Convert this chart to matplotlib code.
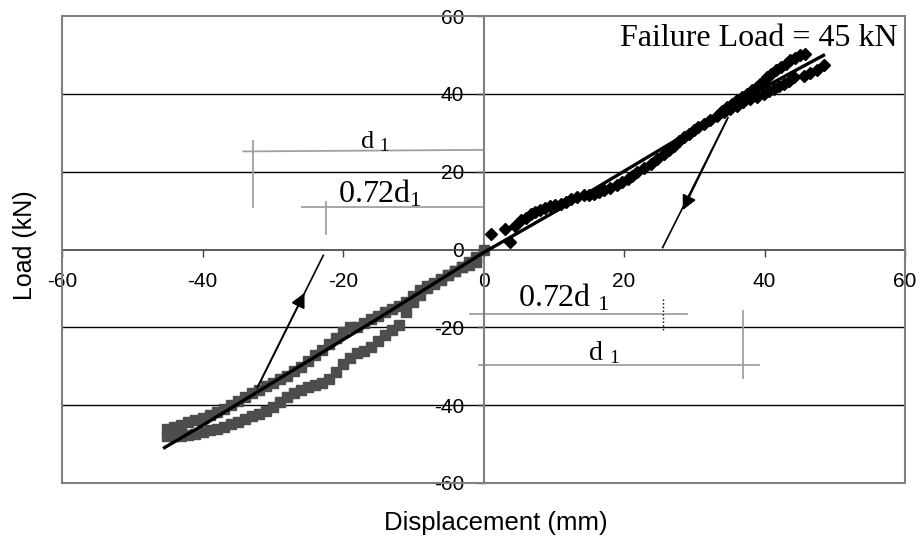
import matplotlib
matplotlib.use('Agg')
import matplotlib.pyplot as plt
from matplotlib.patches import Rectangle

plt.rcParams['font.family'] = ['Liberation Sans', 'DejaVu Sans']
plt.rcParams['mathtext.fontset'] = 'custom'
plt.rcParams['mathtext.rm'] = 'Liberation Serif'
plt.rcParams['mathtext.it'] = 'Liberation Serif'

# ---------------- data ----------------
# negative (push) half cycle, grey squares: loading branch then unloading branch
neg_x = [0, -1, -2, -3, -4, -5, -6, -7, -8, -9, -10, -11, -12, -13, -14, -15, -16, -17,
         -18, -19, -20, -21, -22, -23, -24, -25, -26, -27, -28, -29, -30, -31, -32, -33,
         -34, -35, -36, -37, -38, -39, -40, -41, -42, -43, -44, -45,
         -45, -44, -43, -42, -41, -40, -39, -38, -37, -36, -35, -34, -33, -32, -31, -30,
         -29, -28, -27, -26, -25, -24, -23, -22, -21, -20, -19, -18, -17, -16, -15, -14,
         -13, -12, -11, -10, -9, -8, -7, -6, -5, -4, -3, -2, -1]
neg_y = [0, -2.0, -3.3, -4.6, -5.6, -6.6, -7.7, -8.7, -9.5, -10.5, -12.0, -13.6, -14.5,
         -15.2, -16.0, -17.0, -17.8, -18.8, -20.0, -20.0, -21.3, -22.8, -24.2, -25.8, -27.2,
         -28.6, -30.2, -31.3, -32.4, -33.4, -34.3, -35.2, -36.0, -36.8, -37.8, -38.9, -40.0,
         -41.0, -41.8, -42.6, -43.3, -43.8, -44.4, -45.0, -45.5, -46.0,
         -47.8, -47.9, -47.9, -47.7, -47.4, -47.0, -46.5, -46.0, -45.5, -44.9, -44.2, -43.6,
         -42.9, -42.2, -41.5, -40.5, -39.2, -37.9, -37.0, -36.2, -35.4, -34.8, -34.2, -33.2,
         -31.5, -29.5, -27.8, -26.6, -26.0, -25.0, -23.6, -22.0, -20.6, -19.5, -16.0, -13.5,
         -11.8, -10.0, -8.8, -7.8, -6.6, -5.5, -4.6, -4.0, -3.2]

# positive (pull) half cycle, black diamonds
pos_x = [1.0, 3.1, 3.8, 4.5, 5.3, 6.0, 6.7, 7.4, 8.1, 8.8, 9.5, 10.2, 11.0, 11.7, 12.4, 13.3,
         14.3, 15.0, 15.7, 16.4, 17.1, 18.0, 19.0, 19.7, 20.5, 21.2, 21.9, 22.8, 23.8, 24.7,
         25.7, 26.4, 27.1, 27.8, 28.5, 29.2, 29.9, 30.6, 31.4, 32.3, 33.3, 34.0, 34.7, 35.4,
         36.1, 36.8, 37.5, 38.2, 38.9, 39.4, 39.9, 40.4, 40.9, 41.6, 42.3, 43.0, 43.7, 44.4,
         45.1, 45.8,
         48.5, 47.5, 46.5, 45.6, 44.2, 43.5, 42.8, 42.1, 41.4, 40.6, 39.9, 39.0, 38.0, 37.0,
         36.1, 35.1, 34.2]
pos_y = [4.0, 5.3, 2.0, 6.0, 7.5, 8.2, 9.2, 9.6, 10.1, 10.6, 11.3, 11.5, 11.7, 12.3, 13.0, 13.4,
         13.9, 14.1, 14.3, 14.8, 15.2, 15.8, 16.5, 17.3, 18.1, 19.0, 19.9, 20.9, 22.0, 23.3,
         24.6, 25.6, 26.7, 27.8, 28.9, 29.8, 30.6, 31.4, 32.3, 33.3, 34.4, 35.5, 36.6, 37.4,
         38.3, 39.2, 40.0, 40.9, 41.7, 42.6, 43.4, 44.2, 45.1, 46.0, 46.9, 47.7, 48.6, 49.3,
         49.9, 50.3,
         47.5, 46.2, 45.3, 44.7, 44.3, 43.4, 42.6, 41.9, 41.3, 40.6, 40.0, 39.3, 38.7, 37.8,
         37.0, 36.1, 35.3]

# fitted trend line
trend_x = [-45.4, -40, -30, -15, 0, 15, 30, 36.1, 40, 48.4]
trend_y = [-50.9, -45.2, -34.2, -17.7, -0.8, 14.7, 30.9, 37.9, 41.7, 49.9]

x_ticks = [-60, -40, -20, 0, 20, 40, 60]
y_ticks = [-60, -40, -20, 0, 20, 40, 60]
failure_text = "Failure Load = 45 kN"

# ---------------- figure ----------------
fig = plt.figure(figsize=(9.21, 5.40), dpi=100)
ax = fig.add_axes([62 / 921, 1 - 483 / 540, (905 - 62) / 921, (483 - 16) / 540])
ax.set_xlim(-60, 60)
ax.set_ylim(-60, 60)

# grid lines
for yv in [-40, -20, 20, 40]:
    ax.axhline(yv, color='black', lw=1.0, zorder=1)

# outer frame
ax.add_patch(Rectangle((0, 0), 1, 1, transform=ax.transAxes, fill=False,
                       edgecolor='#808080', lw=1.5, zorder=5, clip_on=False))

for s in ['top', 'right']:
    ax.spines[s].set_visible(False)
ax.spines['left'].set_position(('data', 0))
ax.spines['bottom'].set_position(('data', 0))
ax.spines['left'].set_color('#808080')
ax.spines['bottom'].set_color('#404040')
ax.spines['left'].set_linewidth(1.5)
ax.spines['bottom'].set_linewidth(1.2)

ax.set_xticks(x_ticks)
ax.set_yticks(y_ticks)
ax.set_xticklabels([str(v) for v in x_ticks])
ax.set_yticklabels([str(v) for v in y_ticks])
ax.tick_params(axis='both', direction='out', length=5, width=1, color='#404040',
               labelsize=15)
ax.tick_params(axis='x', pad=11)
ax.tick_params(axis='y', pad=9)

# data
ax.plot(neg_x, neg_y, ls='none', marker='s', ms=7, color='#4d4d4d', zorder=3)
ax.plot(pos_x, pos_y, ls='none', marker='D', ms=6.5, color='black', zorder=3)
ax.plot(trend_x, trend_y, color='black', lw=2.4, zorder=4)

# arrows (stiffness directions)
ax.plot([-32.2, -22.8], [-35.5, -1.5], color='black', lw=1.2, zorder=4)
ax.annotate('', xy=(-25.3, -10.5), xytext=(-32.2, -35.5),
            arrowprops=dict(arrowstyle='-|>', color='black', lw=1.2, mutation_scale=22),
            zorder=4)
ax.plot([34.8, 25.5], [33.9, 0.5], color='black', lw=1.2, zorder=4)
ax.annotate('', xy=(28.2, 9.5), xytext=(34.8, 33.9),
            arrowprops=dict(arrowstyle='-|>', color='black', lw=1.2, mutation_scale=22),
            zorder=4)

# d1 dimension marks
g = '#a0a0a0'
ax.plot([-34.2, 0], [25.2, 25.6], color=g, lw=1.3, zorder=2)
ax.plot([-32.8, -32.8], [10.8, 28.0], color=g, lw=1.3, zorder=2)
ax.plot([-25.9, 0], [10.8, 10.8], color=g, lw=1.3, zorder=2)
ax.plot([-22.4, -22.4], [3.9, 12.3], color=g, lw=1.3, zorder=2)
ax.plot([-1.9, 28.9], [-16.5, -16.5], color=g, lw=1.3, zorder=2)
ax.plot([25.5, 25.5], [-12.6, -21.3], color='black', lw=1.0, ls=':', zorder=2)
ax.plot([-0.7, 39.2], [-29.6, -29.6], color=g, lw=1.3, zorder=2)
ax.plot([37.0, 37.0], [-15.7, -32.9], color=g, lw=1.3, zorder=2)

ax.text(-15.4, 26.0, r'd $_1$', fontsize=19, family='Liberation Serif', ha='center', va='baseline')
ax.text(-14.7, 12.0, r'0.72d$_1$', fontsize=23, family='Liberation Serif', ha='center', va='baseline')
ax.text(11.4, -14.7, r'0.72d $_1$', fontsize=23, family='Liberation Serif', ha='center', va='baseline')
ax.text(17.1, -28.5, r'd $_1$', fontsize=20, family='Liberation Serif', ha='center', va='baseline')

ax.text(59.0, 52.4, failure_text, fontsize=23, family='Liberation Serif', ha='right', va='baseline')

fig.text(25 / 921, 1 - 245 / 540, 'Load (kN)', rotation=90, fontsize=18, ha='center', va='center')
fig.text(496 / 921, 1 - 523 / 540, 'Displacement (mm)', fontsize=18.5, ha='center', va='center')

fig.savefig('out.png', dpi=100)
